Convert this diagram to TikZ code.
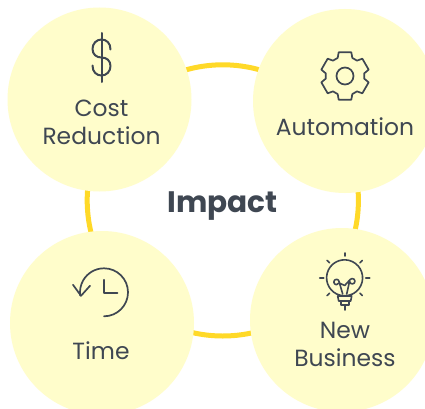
\documentclass[tikz,border=0pt]{standalone}
\usepackage{fontspec}
\setmainfont{Poppins}
\definecolor{disc}{HTML}{FFFDCB}
\definecolor{ringc}{HTML}{FFD928}
\definecolor{ink}{HTML}{3F4752}
\tikzset{
  disc/.style={circle,fill=disc,minimum size=184pt,inner sep=0pt},
  lbl/.style={text=ink,align=center,inner sep=0pt,font=\fontsize{23.4}{28}\selectfont},
  icon/.style={draw=ink,line width=1.8pt,line cap=round,line join=round}
}
\begin{document}
\begin{tikzpicture}[x=1pt,y=1pt]
\useasboundingbox (0,0) rectangle (425,408);
\fill[white] (0,0) rectangle (425,408);
\coordinate (ringcentre) at (222.8,207.6);
\draw[ringc,line width=5pt] (ringcentre) circle[radius=135.6pt];
\node[disc] (cost) at (99.5,308.5) {};
\node[disc] (auto) at (345,307) {};
\node[disc] (time) at (102,85) {};
\node[disc] (biz) at (342,88) {};
\node[lbl] (costl) at (101.5,286) {Cost\\Reduction};
\node[lbl] (autol) at (345,281.5) {Automation};
\node[lbl] (timel) at (101,57.5) {Time};
\node[lbl] (bizl) at (345,63.5) {New\\Business};
\node[text=ink,inner sep=0pt,font=\fontsize{29.6}{34}\selectfont\bfseries] (impact) at (222.5,202) {Impact};
% dollar
\begin{scope}[shift={(101.5,350.5)}]
\draw[icon,line width=2pt] (0,24.5) -- (0,-24.5);
\draw[icon,line width=2pt] (9,8) .. controls (9,14.5) and (5,18) .. (0,18)
  .. controls (-5,18) and (-9,14) .. (-9,8.5)
  .. controls (-9,3) and (-5,0) .. (0,0)
  .. controls (5,0) and (9,-3) .. (9,-8.5)
  .. controls (9,-14) and (5,-18) .. (0,-18)
  .. controls (-5,-18) and (-9,-14.5) .. (-9,-8);
\end{scope}
% gear
\begin{scope}[shift={(345,332)}]
\draw[icon,line width=1.7pt] (0,0) circle[radius=8.5pt];
\draw[icon,line width=1.7pt] (75:24.5)
  \foreach \a in {90,30,-30,-90,-150,-210} {
    -- ({\a-15}:24.5) -- ({\a-22}:19.5) arc[start angle={\a-22},end angle={\a-38},radius=19.5pt]
    -- ({\a-45}:24.5)
  } -- cycle;
\end{scope}
% clock
\begin{scope}[shift={(104,115.7)}]
\draw[icon,line width=1.7pt] (-90:24pt) arc[start angle=-90,end angle=188,radius=24pt];
\draw[icon,line width=1.7pt] (-31,7.5) -- (-23,-3.5) -- (-14,6.5);
\draw[icon,line width=1.7pt] (0,12.5) -- (0,-1) -- (13.5,-1);
\end{scope}
% bulb
\begin{scope}[shift={(344.7,130)}]
\draw[icon,line width=1.6pt] (-8,-16) arc[start angle=-116,end angle=296,radius=18pt] -- (8,-16);
\draw[icon,line width=1.6pt] (-7,-18) -- (7,-18) -- (6,-23) -- (-6,-23) -- cycle;
\draw[icon,line width=1.6pt] (-4,-23) -- (-4,-27) -- (4,-27) -- (4,-23);
\draw[icon,line width=1.6pt] (0,-27) -- (0,-32);
\draw[icon,line width=1.6pt] (-2,-16) -- (-5.5,-4) arc[start angle=0,end angle=340,radius=2.7pt] -- (0,-7.5) -- (5.5,-1.5) arc[start angle=140,end angle=-180,radius=2.7pt] -- (2,-16);
\foreach \a/\i/\o in {90/22/25,45/21.5/25,0/21/25,180/21/25,135/21.5/25,-45/21.5/25,225/21.5/25}
  \draw[icon,line width=1.6pt] (\a:\i) -- (\a:\o);
\end{scope}
\end{tikzpicture}
\end{document}
